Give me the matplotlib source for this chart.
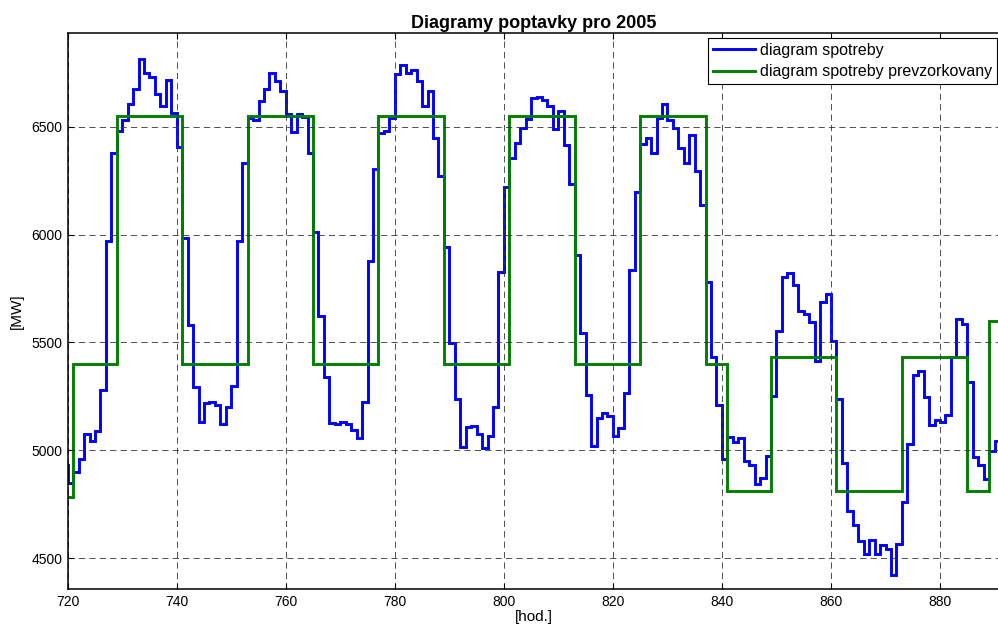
import numpy as np
import matplotlib
matplotlib.use("Agg")
import matplotlib.pyplot as plt

plt.rcParams['font.family'] = ['Liberation Sans', 'DejaVu Sans']
plt.rcParams['lines.scale_dashes'] = False

# hourly demand [MW], first value belongs to hour 719
start_hour = 719
spotreba = [
    4934, 4851, 4901, 4962, 5078, 5045, 5091, 5278, 5969, 6377,
    6482, 6531, 6606, 6677, 6816, 6750, 6730, 6651, 6594, 6718,
    6565, 6407, 5985, 5579, 5295, 5132, 5219, 5224, 5212, 5121,
    5202, 5298, 5969, 6333, 6540, 6531, 6619, 6677, 6750, 6714,
    6667, 6560, 6474, 6561, 6543, 6377, 6013, 5621, 5339, 5128,
    5124, 5132, 5121, 5094, 5058, 5224, 5877, 6303, 6469, 6478,
    6540, 6743, 6788, 6750, 6763, 6710, 6598, 6664, 6449, 6270,
    5944, 5497, 5240, 5017, 5108, 5111, 5078, 5012, 5066, 5199,
    5828, 6220, 6354, 6424, 6495, 6535, 6631, 6639, 6623, 6598,
    6490, 6573, 6416, 6233, 5907, 5543, 5257, 5020, 5149, 5171,
    5161, 5066, 5104, 5265, 5836, 6197, 6419, 6449, 6379, 6540,
    6606, 6531, 6495, 6402, 6333, 6462, 6295, 6139, 5781, 5434,
    5212, 4959, 5063, 5041, 5058, 4950, 4934, 4846, 4873, 4975,
    5253, 5555, 5803, 5820, 5765, 5646, 5632, 5596, 5414, 5687,
    5725, 5505, 5240, 4942, 4719, 4656, 4578, 4520, 4583, 4520,
    4561, 4545, 4421, 4566, 4760, 5030, 5351, 5369, 5248, 5119,
    5141, 5132, 5166, 5434, 5608, 5584, 5315, 4967, 4934, 4868,
    4997, 5045,
]

# resampled demand: block edges [hod.] and levels [MW]
prevz_edges = [719, 721, 729, 741, 753, 765, 777, 789, 801, 813,
               825, 837, 841, 849, 861, 873, 885, 889, 892]
prevz_levels = [4785, 5400, 6550, 5400, 6550, 5400, 6550, 5400, 6550,
                5400, 6550, 5400, 4810, 5431, 4810, 5431, 4810, 5601]

hod_edges = np.arange(start_hour, start_hour + len(spotreba) + 1)

fig = plt.figure(figsize=(9.98, 6.32), dpi=100)
ax = fig.add_axes([67.7 / 998, (632 - 589.3) / 632, (1000 - 67.7) / 998, (589.3 - 33.3) / 632])

ax.stairs(spotreba, hod_edges, color=(0, 0, 1), linewidth=2.1, baseline=None,
          label='diagram spotreby')
ax.stairs(prevz_levels, prevz_edges, color=(0, 0.5, 0), linewidth=2.1, baseline=None,
          label='diagram spotreby prevzorkovany')

ax.set_xlim(720, 891)
ax.set_ylim(4356, 6933)
ax.set_xticks(np.arange(720, 891, 20))
ax.set_yticks([4500, 5000, 5500, 6000, 6500])

ax.grid(True, color='0.2', linestyle=(0, (4.5, 3.0)), linewidth=0.6)
ax.tick_params(direction='in', top=True, right=False, length=4, width=0.8,
               labelsize=10, pad=4)
for s in ax.spines.values():
    s.set_linewidth(1.1)

ax.set_title('Diagramy poptavky pro 2005', fontsize=13, fontweight='bold', pad=4)
ax.set_xlabel('[hod.]', fontsize=11, labelpad=1)
ax.set_ylabel('[MW]', fontsize=11, labelpad=5)

leg = ax.legend(loc='upper right', bbox_to_anchor=(0.9968, 0.9915), borderaxespad=0,
                fancybox=False, framealpha=1, edgecolor='k', fontsize=11.5,
                handlelength=2.6, handletextpad=0.35, borderpad=0.3, labelspacing=0.4)
leg.get_frame().set_linewidth(0.8)

fig.savefig('out.png', dpi=100)
